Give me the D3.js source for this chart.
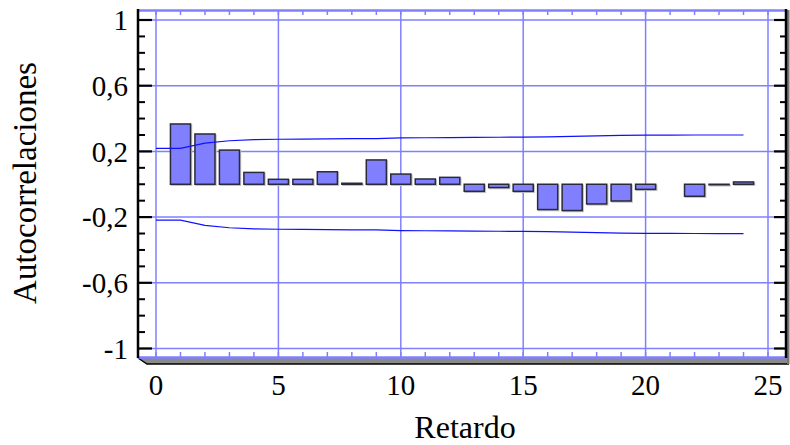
<!DOCTYPE html>
<html>
<head>
<meta charset="utf-8">
<script src="https://cdn.jsdelivr.net/npm/d3@7"></script>
<style>
  html, body { margin: 0; padding: 0; background: #fff; }
  svg { display: block; }
</style>
</head>
<body>
<svg id="chart" width="790" height="445"></svg>
<script>
// Sample autocorrelations by lag
const lags = [1, 2, 3, 4, 5, 6, 7, 8, 9, 10, 11, 12, 13, 14, 15, 16, 17, 18, 19, 20, 21, 22, 23, 24];
const autocorr = [0.367, 0.306, 0.208, 0.072, 0.030, 0.030, 0.076, 0.006, 0.148, 0.062, 0.032, 0.042,
                  -0.043, -0.020, -0.043, -0.154, -0.160, -0.120, -0.102, -0.031, 0.000, -0.073, -0.003, 0.014];

// 95% probability limits, lag 0 .. 24
const limitLags = [0, 1, 2, 3, 4, 5, 6, 7, 8, 9, 10, 11, 12, 13, 14, 15, 16, 17, 18, 19, 20, 21, 22, 23, 24];
const limitUpper = [0.219, 0.219, 0.250, 0.265, 0.272, 0.274, 0.275, 0.276, 0.278, 0.278, 0.282, 0.283, 0.284,
                    0.285, 0.286, 0.287, 0.288, 0.291, 0.295, 0.297, 0.299, 0.299, 0.300, 0.300, 0.300];
const limitLower = limitUpper.map(v => -v);

// Axis ticks
const xTicks = [0, 5, 10, 15, 20, 25];
const xTickLabels = ["0", "5", "10", "15", "20", "25"];
const yTicks = [1, 0.6, 0.2, -0.2, -0.6, -1];
const yTickLabels = ["1", "0,6", "0,2", "-0,2", "-0,6", "-1"];
const xTitle = "Retardo";
const yTitle = "Autocorrelaciones";

const FONT = "Liberation Serif";

const svg = d3.select("#chart");

const box = { left: 138, right: 786, top: 10, bottom: 358 };
const x = d3.scaleLinear().domain([0, 25]).range([156, 768]);
const y = d3.scaleLinear().domain([-1, 1]).range([348.5, 20]);

const gridColor = "#8080ff";

// bottom shaded face under the plot frame
svg.append("path")
  .attr("d", `M${box.left},${box.bottom} L${box.right + 1},${box.bottom} L${box.right + 3},${box.bottom + 6} L${box.left + 9},${box.bottom + 6} Z`)
  .attr("fill", "#8a8a8a");
svg.append("path")
  .attr("d", `M${box.left},${box.bottom} L${box.left + 9},${box.bottom + 6} L${box.right + 3},${box.bottom + 6}`)
  .attr("fill", "none").attr("stroke", "#000").attr("stroke-width", 1.5);
// right shaded edge
svg.append("rect")
  .attr("x", box.right + 1).attr("y", box.top).attr("width", 2.5).attr("height", box.bottom - box.top + 6)
  .attr("fill", "#777");

// plot background
svg.append("rect")
  .attr("x", box.left).attr("y", box.top)
  .attr("width", box.right - box.left).attr("height", box.bottom - box.top)
  .attr("fill", "#fff");

// grid
svg.append("g").selectAll("line").data(xTicks).join("line")
  .attr("x1", d => x(d)).attr("x2", d => x(d))
  .attr("y1", box.top).attr("y2", box.bottom)
  .attr("stroke", gridColor).attr("stroke-width", 1.5);
svg.append("g").selectAll("line").data(yTicks).join("line")
  .attr("x1", box.left).attr("x2", box.right)
  .attr("y1", d => y(d)).attr("y2", d => y(d))
  .attr("stroke", gridColor).attr("stroke-width", 1.5);

// top / bottom frame lines with unit ticks
const unitTicks = d3.range(0, 26);
svg.append("line")
  .attr("x1", box.left).attr("x2", box.right).attr("y1", box.top + 0.5).attr("y2", box.top + 0.5)
  .attr("stroke", gridColor).attr("stroke-width", 2.5);
svg.append("line")
  .attr("x1", box.left).attr("x2", box.right).attr("y1", box.bottom - 0.5).attr("y2", box.bottom - 0.5)
  .attr("stroke", gridColor).attr("stroke-width", 2.5);
svg.append("g").selectAll("line").data(unitTicks).join("line")
  .attr("x1", d => x(d)).attr("x2", d => x(d))
  .attr("y1", box.top).attr("y2", box.top + 5)
  .attr("stroke", gridColor).attr("stroke-width", 1.5);
svg.append("g").selectAll("line").data(unitTicks).join("line")
  .attr("x1", d => x(d)).attr("x2", d => x(d))
  .attr("y1", box.bottom).attr("y2", box.bottom - 6)
  .attr("stroke", gridColor).attr("stroke-width", 1.5);

// bars
const bars = lags.map((l, i) => ({ lag: l, v: autocorr[i] })).filter(d => d.v !== 0);
const bw = (x(1) - x(0)) * 0.82;
const barG = svg.append("g");
barG.selectAll("rect.shadow").data(bars).join("rect")
  .attr("class", "shadow")
  .attr("x", d => x(d.lag) - bw / 2 + 1)
  .attr("y", d => Math.min(y(d.v), y(0)) + 1)
  .attr("width", bw)
  .attr("height", d => Math.max(0.5, Math.abs(y(d.v) - y(0))))
  .attr("fill", "none").attr("stroke", "#c4c4c4").attr("stroke-width", 1.5);
barG.selectAll("rect.bar").data(bars).join("rect")
  .attr("class", "bar")
  .attr("x", d => x(d.lag) - bw / 2)
  .attr("y", d => Math.min(y(d.v), y(0)))
  .attr("width", bw)
  .attr("height", d => Math.max(0.5, Math.abs(y(d.v) - y(0))))
  .attr("fill", "#8080ff").attr("stroke", "#2a2a3a").attr("stroke-width", 1.5);

// probability limits
const limLine = d3.line().x(d => x(d[0])).y(d => y(d[1]));
[limitUpper, limitLower].forEach(arr => {
  svg.append("path")
    .datum(limitLags.map((l, i) => [l, arr[i]]))
    .attr("d", limLine)
    .attr("fill", "none").attr("stroke", "#1010ff").attr("stroke-width", 1.2);
});

// left and right value axes
const minor = d3.range(-10, 11).map(k => k / 10).filter(v => !yTicks.some(t => Math.abs(t - v) < 1e-9));
svg.append("line")
  .attr("x1", box.left).attr("x2", box.left).attr("y1", box.top - 1).attr("y2", box.bottom)
  .attr("stroke", "#000").attr("stroke-width", 2.5);
svg.append("line")
  .attr("x1", box.right).attr("x2", box.right).attr("y1", box.top - 1).attr("y2", box.bottom)
  .attr("stroke", "#000").attr("stroke-width", 2.5);
svg.append("g").selectAll("line").data(yTicks).join("line")
  .attr("x1", box.left).attr("x2", box.left + 14)
  .attr("y1", d => y(d)).attr("y2", d => y(d))
  .attr("stroke", "#000").attr("stroke-width", 2.2);
svg.append("g").selectAll("line").data(minor).join("line")
  .attr("x1", box.left).attr("x2", box.left + 7)
  .attr("y1", d => y(d)).attr("y2", d => y(d))
  .attr("stroke", "#000").attr("stroke-width", 2);
svg.append("g").selectAll("line").data(yTicks).join("line")
  .attr("x1", box.right).attr("x2", box.right - 12)
  .attr("y1", d => y(d)).attr("y2", d => y(d))
  .attr("stroke", "#000").attr("stroke-width", 2.2);
svg.append("g").selectAll("line").data(minor).join("line")
  .attr("x1", box.right).attr("x2", box.right - 6)
  .attr("y1", d => y(d)).attr("y2", d => y(d))
  .attr("stroke", "#000").attr("stroke-width", 2);

// tick labels
svg.append("g").selectAll("text").data(yTicks).join("text")
  .attr("x", 128).attr("y", d => y(d)).attr("dy", "0.35em")
  .attr("text-anchor", "end").attr("font-size", 29).attr("font-family", FONT)
  .text((d, i) => yTickLabels[i]);
svg.append("g").selectAll("text").data(xTicks).join("text")
  .attr("x", d => x(d)).attr("y", 395)
  .attr("text-anchor", "middle").attr("font-size", 29).attr("font-family", FONT)
  .text((d, i) => xTickLabels[i]);

// titles
svg.append("text")
  .attr("x", (box.left + box.right) / 2 + 3).attr("y", 438)
  .attr("text-anchor", "middle").attr("font-size", 32).attr("font-family", FONT)
  .text(xTitle);
svg.append("text")
  .attr("transform", `translate(36, 183) rotate(-90)`)
  .attr("text-anchor", "middle").attr("font-size", 33).attr("font-family", FONT)
  .text(yTitle);
</script>
</body>
</html>
